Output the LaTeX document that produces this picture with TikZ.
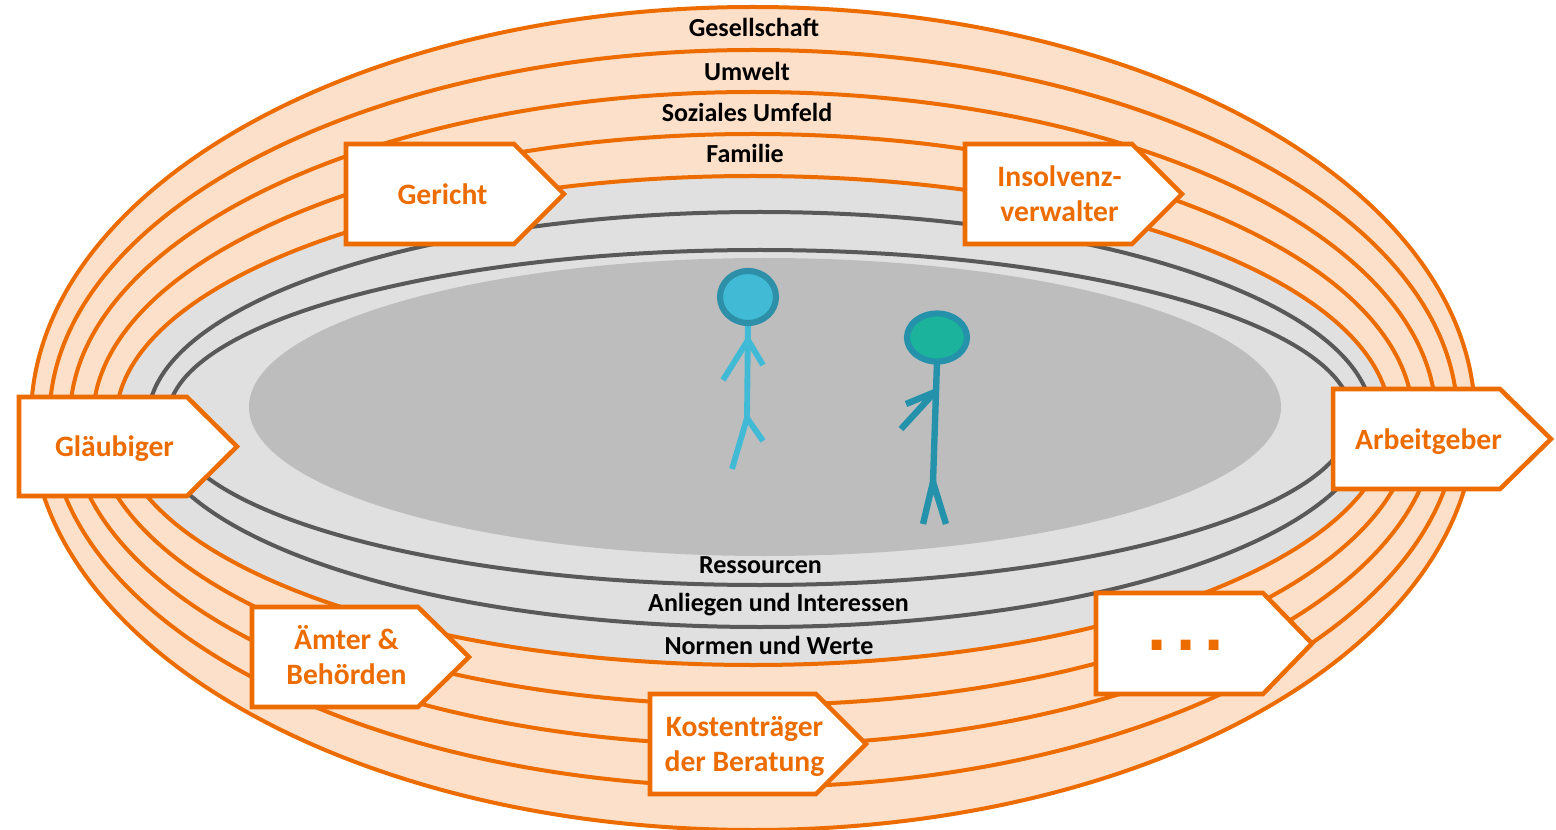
\documentclass[tikz,border=0pt]{standalone}
\usepackage{fontspec}
\setmainfont{Carlito}
\newfontfamily\dotsfont{Liberation Sans}
\definecolor{ringorange}{HTML}{ED6C00}
\definecolor{ringfill}{HTML}{FDE0C9}
\definecolor{midgray}{HTML}{E0E0E0}
\definecolor{coregray}{HTML}{BDBDBD}
\definecolor{ringdark}{HTML}{595959}
\definecolor{bluebody}{HTML}{41BAD6}
\definecolor{bluerim}{HTML}{2E8FA8}
\definecolor{greenfill}{HTML}{1BB39B}
\definecolor{tealbody}{HTML}{2592AB}
\tikzset{
  x=0.75pt,y=-0.75pt,
  orangering/.style={draw=ringorange,line width=3pt,fill=ringfill},
  darkring/.style={draw=ringdark,line width=3pt,fill=midgray},
  ringlabel/.style={font=\bfseries\fontsize{19.5pt}{23pt}\selectfont,text=black,inner sep=0pt,text height=12pt,text depth=4pt},
  tagshape/.style={draw=ringorange,line width=3.4pt,fill=white,line join=miter},
  taglabel/.style={font=\bfseries\fontsize{22.2pt}{26.3pt}\selectfont,text=ringorange,align=center,inner sep=0pt,text height=15pt,text depth=5pt},
  bluelimb/.style={draw=bluebody,line width=4.4pt,line join=round},
  teallimb/.style={draw=tealbody,line width=4.8pt,line join=round},
}
\newcommand{\tagbox}[8]{%
  \draw[tagshape] (#2,#3) -- (#5,#3) -- (#6,{(#3+#4)/2}) -- (#5,#4) -- (#2,#4) -- cycle;
  \node[taglabel] (#1) at (#7,#8)}
\begin{document}
\begin{tikzpicture}
\useasboundingbox (0,0) rectangle (1556,830);
\fill[white] (0,0) rectangle (1556,830);
% rings
\path[orangering] (753,418.5) ellipse [x radius=722,y radius=411.5];
\path[orangering] (753.5,418.5) ellipse [x radius=704,y radius=368.5];
\path[orangering] (753,418.5) ellipse [x radius=683,y radius=326.5];
\path[orangering] (753,419.5) ellipse [x radius=660,y radius=285.5];
\path[orangering,fill=midgray] (753,420.5) ellipse [x radius=637,y radius=244.5];
\path[darkring] (760,419.5) ellipse [x radius=612,y radius=207.5];
\path[darkring] (760,417.5) ellipse [x radius=592,y radius=167.5];
\fill[coregray] (765,407) ellipse [x radius=516,y radius=149];
% ring labels
\node[ringlabel] (gesellschaft) at (754,31.5) {Gesellschaft};
\node[ringlabel] (umwelt) at (747,75.5) {Umwelt};
\node[ringlabel] (sozial) at (747,116.5) {Soziales Umfeld};
\node[ringlabel] (familie) at (745,157.5) {Familie};
\node[ringlabel] (ressourcen) at (760.5,568.5) {Ressourcen};
\node[ringlabel] (anliegen) at (778.5,606.5) {Anliegen und Interessen};
\node[ringlabel] (normen) at (769,649.5) {Normen und Werte};
% tags
\tagbox{gericht}{346}{144}{244}{514}{564}{442.5}{198} {Gericht};
\tagbox{insolvenz}{965}{144}{244}{1132}{1182}{1059.5}{215} {Insolvenz-\\verwalter};
\tagbox{glaeubiger}{19}{397}{496}{187}{237}{114.5}{450} {Gläubiger};
\tagbox{arbeitgeber}{1333}{389}{489}{1500}{1551}{1428.5}{443} {Arbeitgeber};
\tagbox{aemter}{252}{607}{707}{418}{469}{346.5}{678} {Ämter \&\\Behörden};
\tagbox{dots}{1096}{593}{694}{1263}{1312}{1186}{644} {};
\node[inner sep=0pt,anchor=base,text=ringorange,font=\dotsfont\bfseries\fontsize{52pt}{60pt}\selectfont] (dotstext) at (1186,650) {.\kern7pt.\kern7pt.};
\tagbox{kosten}{650}{694}{794}{816}{866}{744.5}{765} {Kostenträger\\der Beratung};
% blue figure
\draw[bluelimb] (748,322) -- (747,418);
\draw[bluelimb] (723,380) -- (748,340) -- (763,365);
\draw[bluelimb] (732,469) -- (747,418) -- (763,441);
\draw[draw=bluerim,line width=4.6pt,fill=bluebody] (748,297) ellipse [x radius=28,y radius=26];
% teal figure
\draw[teallimb] (937,362) -- (933,482);
\draw[teallimb] (906,404) -- (935,392) -- (901,429);
\draw[teallimb] (923,524) -- (933,482) -- (946,524);
\draw[draw=tealbody,line width=4.6pt,fill=greenfill] (937,337.5) ellipse [x radius=30,y radius=24];
\end{tikzpicture}
\end{document}
